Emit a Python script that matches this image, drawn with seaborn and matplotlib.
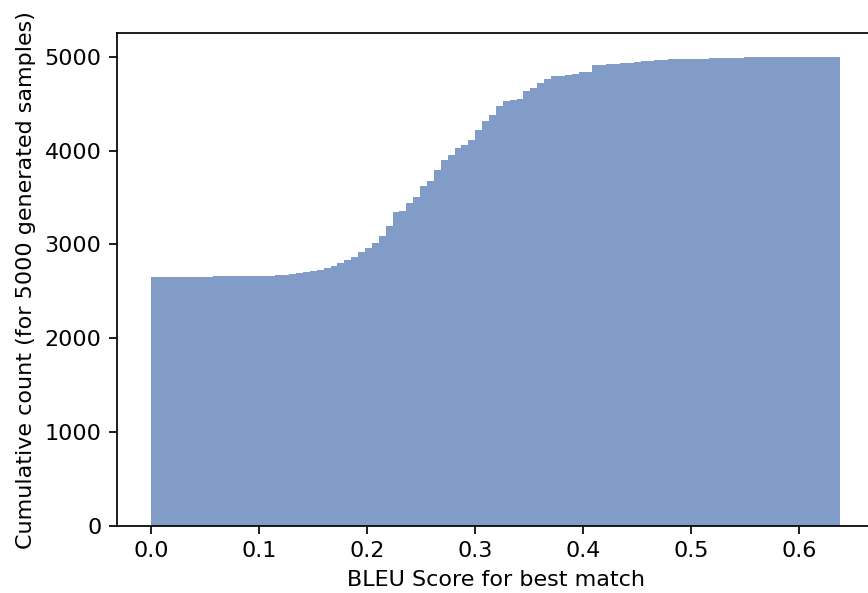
import numpy as np
import pandas as pd
import matplotlib
matplotlib.use('Agg')
import matplotlib.pyplot as plt
import seaborn as sns

# cumulative count at the end of each of the 100 bins
bleu_max = 0.638
n_bins = 100
cum_counts = [
    2655, 2656, 2656, 2657, 2657, 2657, 2658, 2658, 2658, 2659,
    2659, 2660, 2660, 2661, 2662, 2663, 2665, 2668, 2672, 2678,
    2685, 2695, 2706, 2716, 2732, 2752, 2775, 2800, 2836, 2870,
    2920, 2965, 3020, 3085, 3200, 3340, 3360, 3443, 3510, 3617,
    3671, 3795, 3902, 3950, 4030, 4062, 4115, 4222, 4311, 4382,
    4471, 4524, 4535, 4547, 4630, 4666, 4719, 4762, 4790, 4797,
    4805, 4815, 4833, 4835, 4910, 4915, 4920, 4925, 4930, 4935,
    4945, 4955, 4958, 4965, 4968, 4970, 4972, 4974, 4976, 4978,
    4980, 4982, 4985, 4987, 4989, 4991, 4992, 4993, 4994, 4994,
    4995, 4995, 4996, 4996, 4997, 4997, 4998, 4999, 4999, 5000,
]
x_label = 'BLEU Score for best match'
y_label = 'Cumulative count (for 5000 generated samples)'

edges = np.linspace(0, bleu_max, n_bins + 1)
df = pd.DataFrame({
    'bleu': (edges[:-1] + edges[1:]) / 2,
    'n': np.diff(cum_counts, prepend=0),
})

plt.rcParams['font.family'] = ['DejaVu Sans']
plt.rcParams['font.size'] = 16

fig = plt.figure(figsize=(8.68, 5.93), dpi=100)
ax = fig.add_axes([0.1348, 0.113, 0.873, 0.831])

sns.histplot(data=df, x='bleu', weights='n', bins=n_bins, binrange=(0, bleu_max),
             cumulative=True, color='#4c72b0', alpha=0.7, linewidth=0,
             edgecolor='none', ax=ax)

ax.set_xlabel(x_label, fontsize=16, labelpad=6)
ax.set_ylabel(y_label, fontsize=16, labelpad=6)
ax.tick_params(labelsize=16, length=5.6, width=1.25, pad=5.5)
for s in ax.spines.values():
    s.set_linewidth(1.25)

fig.savefig('out.png', dpi=100)
plt.close()
